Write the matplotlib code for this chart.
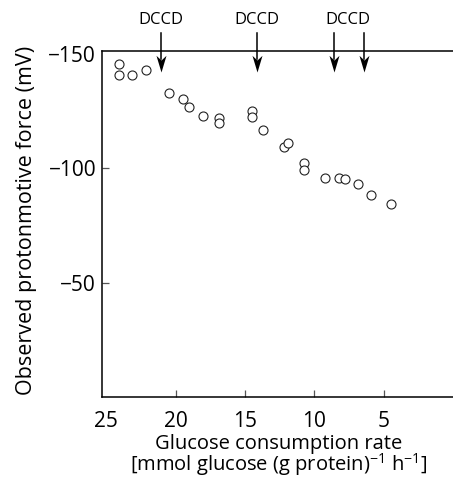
import matplotlib.pyplot as plt
from matplotlib.path import Path
import numpy as np

plt.rcParams['font.family'] = ['Open Sans', 'DejaVu Sans']

# glucose consumption rate vs observed protonmotive force
rate = [24.1, 24.1, 23.1, 22.1, 20.5, 19.45, 19.05, 18.0, 16.85, 16.85,
        14.5, 14.5, 13.7, 12.2, 11.9, 10.75, 10.75, 9.25, 8.25, 7.8,
        6.85, 5.9, 4.5]
pmf = [-146, -141, -141, -143.3, -133, -130.5, -126.8, -123, -122, -120,
       -125, -122.4, -117, -109.3, -111.2, -102.3, -99.4, -96, -95.8, -95.5,
       -93.4, -88.3, -84.6]

# DCCD additions
dccd_x = [21.05, 14.15, 8.6, 6.45]
dccd_labels = [(21.05, 'DCCD'), (14.15, 'DCCD'), (7.55, 'DCCD')]

xticks = [25, 20, 15, 10, 5]
yticks = [-150, -100, -50]

# arrow head pointing down, tip at origin
head = Path([(0, 0), (-0.3, 1.0), (0, 0.72), (0.3, 1.0), (0, 0)],
            [Path.MOVETO, Path.LINETO, Path.LINETO, Path.LINETO, Path.CLOSEPOLY])

fig = plt.figure(figsize=(4.53, 4.79), dpi=100)
ax = fig.add_axes([0.2245, 0.172, 0.7755, 0.7215])

ax.plot(rate, pmf, 'o', ms=6.5, mfc='white', mec='#222222', mew=0.8)

ax.set_xlim(25.32, 0)
ax.set_ylim(0, -151.5)
ax.set_xticks(xticks)
ax.set_yticks(yticks)
ax.tick_params(direction='in', length=5, width=0.9, color='#555555',
               labelsize=15, pad=4)
ax.tick_params(axis='x', pad=10)
ax.xaxis.get_major_ticks()[0].tick1line.set_visible(False)
ax.yaxis.get_major_ticks()[0].tick1line.set_visible(False)

ax.spines['right'].set_visible(False)
for s in ['left', 'bottom', 'top']:
    ax.spines[s].set_linewidth(1.1)

for x in dccd_x:
    ax.plot([x, x], [-159.5, -148], color='black', lw=1.1, clip_on=False)
    ax.plot(x, -142.3, marker=head, ms=24, color='black', mew=0,
            clip_on=False)
for x, t in dccd_labels:
    ax.text(x, -165.2, t, ha='center', va='center', fontsize=12, clip_on=False)

# two-line x axis title
fig.text(279 / 453, 1 - 456 / 479,
         'Glucose consumption rate\n'
         r'[mmol glucose (g protein)$^{\mathregular{-1}}$ h$^{\mathregular{-1}}$]',
         ha='center', va='center', ma='center', fontsize=14.5, linespacing=0.9)
ax.set_ylabel('Observed protonmotive force (mV)', fontsize=15.5)
ax.yaxis.set_label_coords(-0.185, 0.511)

plt.savefig('out.png', dpi=100)
